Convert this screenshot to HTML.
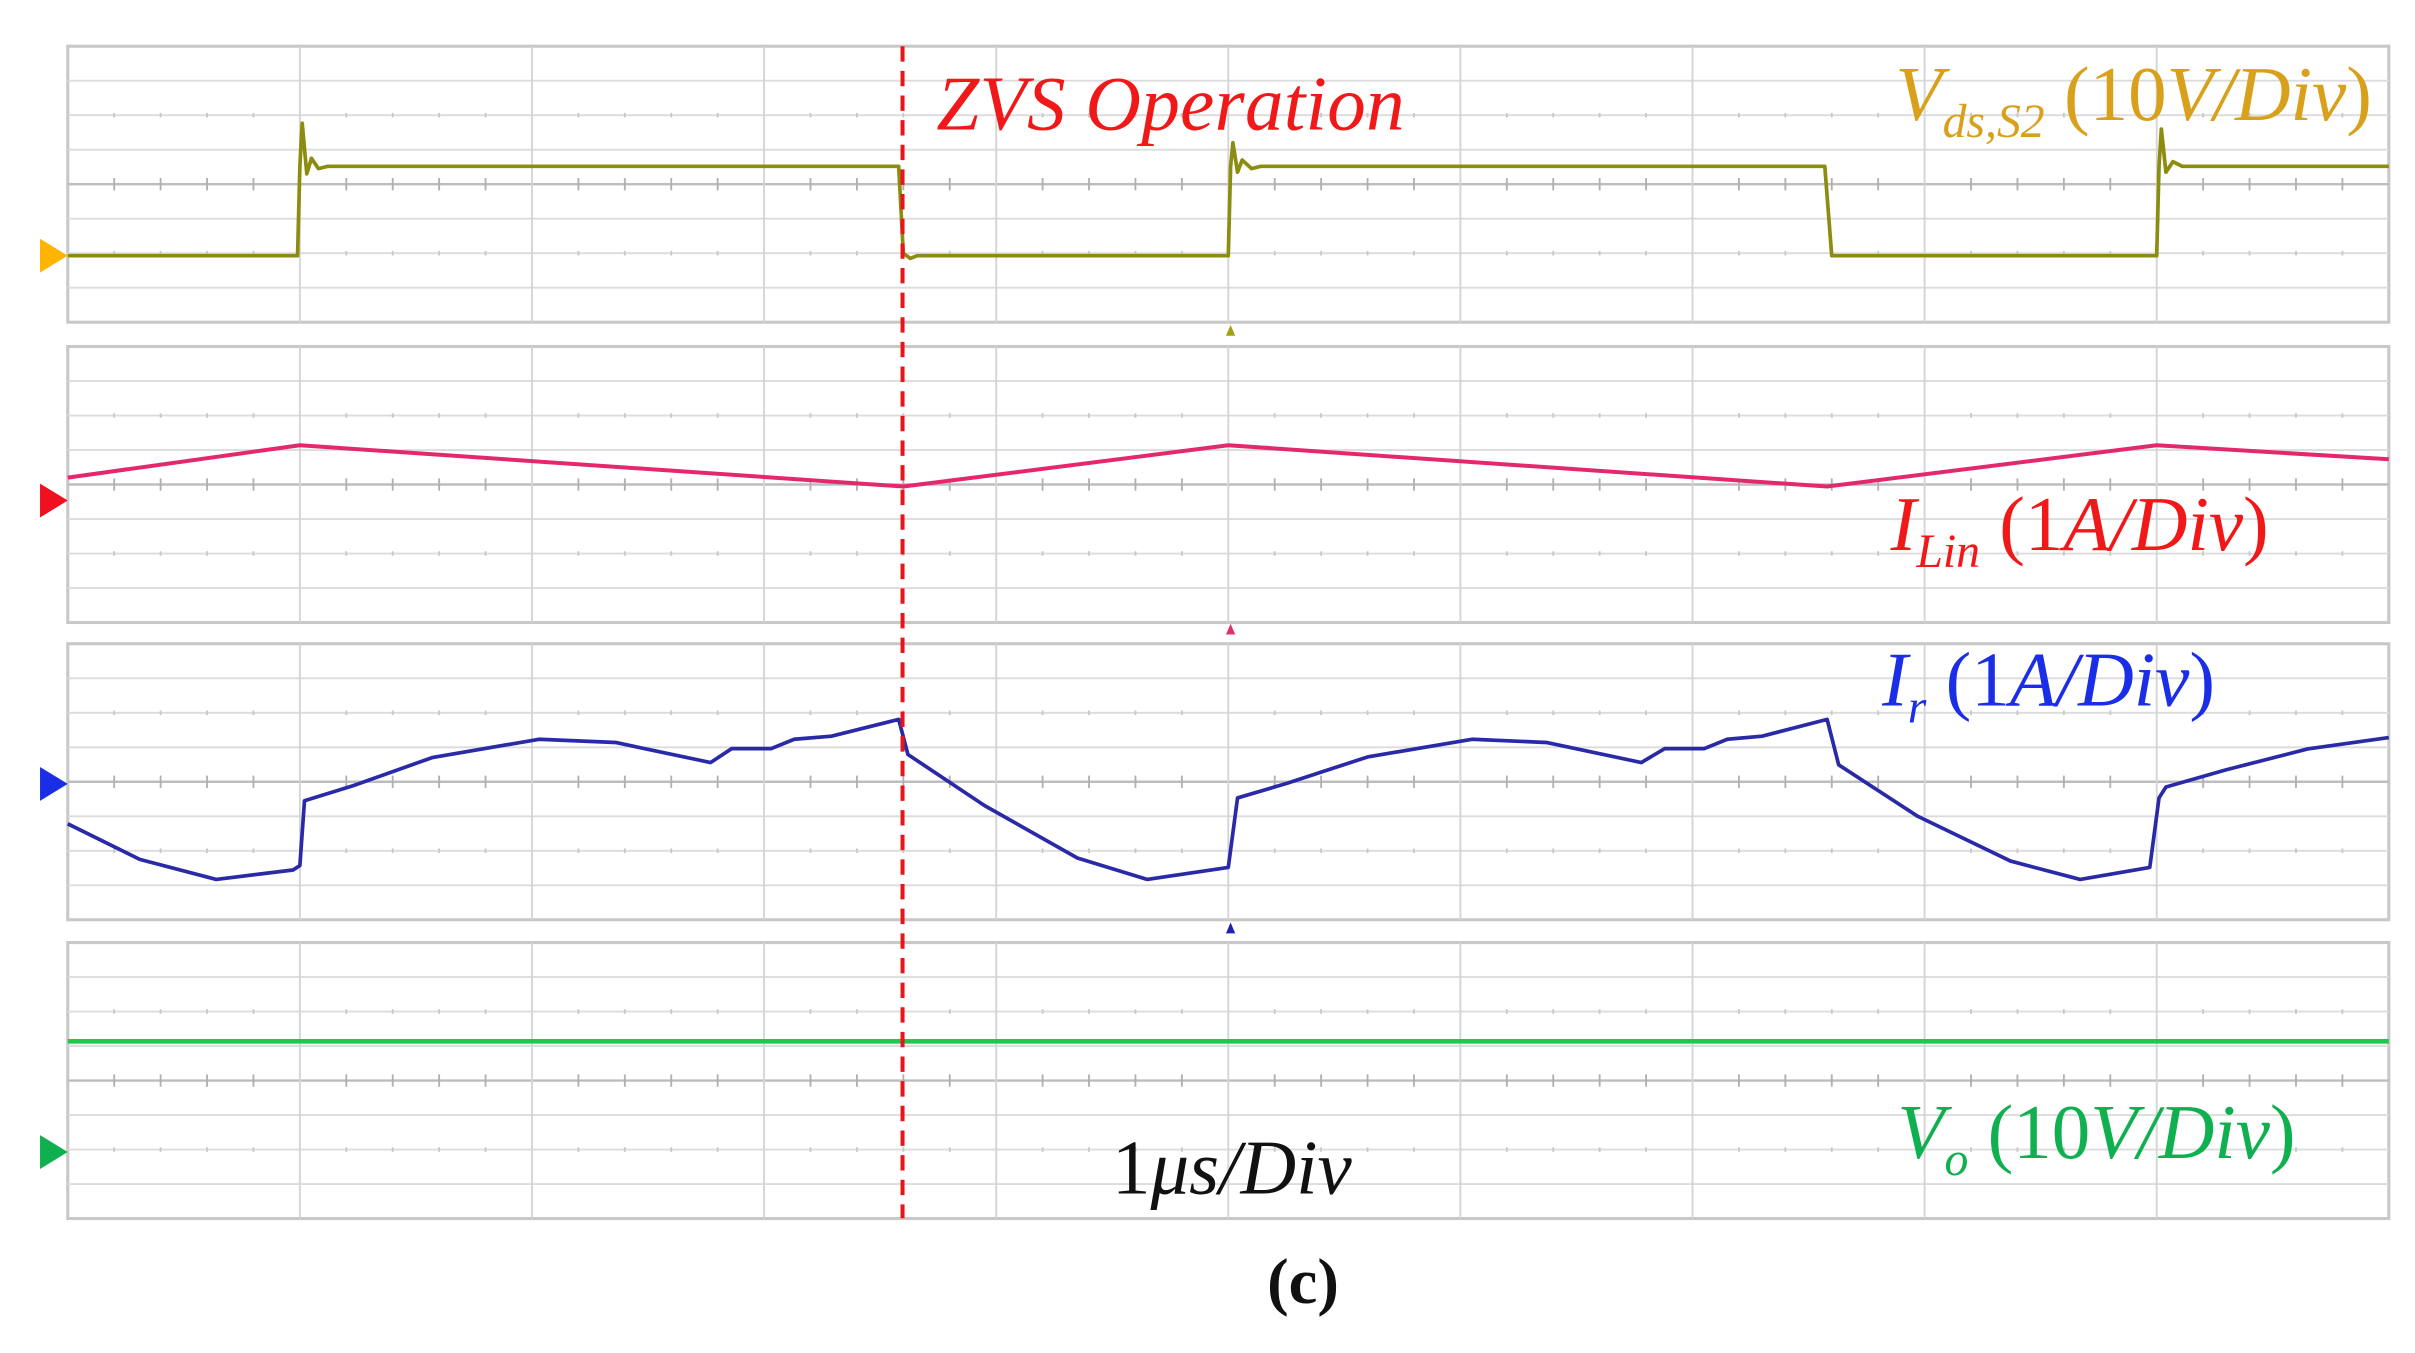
<!DOCTYPE html>
<html><head><meta charset="utf-8"><style>
html,body{margin:0;padding:0;background:#fff;}
svg{display:block;}
text{font-family:"Liberation Serif",serif;}
</style></head>
<body>
<svg id="scope" width="2415" height="1353" viewBox="0 0 1568 878.5" preserveAspectRatio="none" xmlns="http://www.w3.org/2000/svg">
<g id="grid"></g>
<g id="traces"></g>
<line x1="586" y1="30" x2="586" y2="791" stroke="#e8141c" stroke-width="2.6" stroke-dasharray="10,6"/>
<polygon points="26,155 44,166 26,177" fill="#ffb400"/>
<polygon points="26,314 44,325 26,336" fill="#f01020"/>
<polygon points="26,498 44,509 26,520" fill="#1a2ee8"/>
<polygon points="26,737 44,748 26,759" fill="#10b050"/>
<polygon points="796,218 799,211 802,218" fill="#a0a010"/>
<polygon points="796,412 799,405 802,412" fill="#e0306a"/>
<polygon points="796,606 799,599 802,606" fill="#2020b0"/>
<text x="608" y="84" font-size="50" font-style="italic" fill="#f01818" textLength="304">ZVS Operation</text>
<text x="1540" y="78" font-size="50" font-style="italic" fill="#d9a01c" text-anchor="end">V<tspan font-size="31" dy="11">ds,S2</tspan><tspan dy="-11" font-style="normal"> (10</tspan>V/Div<tspan font-style="normal">)</tspan></text>
<text x="1473" y="357" font-size="50" font-style="italic" fill="#f01818" text-anchor="end">I<tspan font-size="31" dy="11">Lin</tspan><tspan dy="-11" font-style="normal"> (1</tspan>A/Div<tspan font-style="normal">)</tspan></text>
<text x="1222" y="458" font-size="50" font-style="italic" fill="#1a2ee8">I<tspan font-size="31" dy="11">r</tspan><tspan dy="-11" font-style="normal"> (1</tspan>A/Div<tspan font-style="normal">)</tspan></text>
<text x="1232" y="752" font-size="50" font-style="italic" fill="#10b050">V<tspan font-size="31" dy="11">o</tspan><tspan dy="-11" font-style="normal"> (10</tspan>V/Div<tspan font-style="normal">)</tspan></text>
<text x="722" y="775" font-size="50" font-style="italic" fill="#111"><tspan font-style="normal">1</tspan>μs/Div</text>
<text x="846" y="846" font-size="42" fill="#111" text-anchor="middle" font-weight="bold">(c)</text>
</svg>
<script>
// time in μs (1 div = 1 μs), values in divisions from panel center
const vdsT = [0,0.99,1.0,1.01,1.03,1.05,1.08,1.12,3.58,3.6,3.63,3.66,5.0,5.01,5.02,5.04,5.06,5.1,5.14,7.57,7.6,7.63,9.0,9.01,9.02,9.04,9.07,9.11,10];
const vdsV = [-2.07,-2.07,0.52,1.77,0.3,0.75,0.45,0.52,0.52,-2.0,-2.15,-2.07,-2.07,0.52,1.2,0.35,0.7,0.45,0.52,0.52,-2.07,-2.07,-2.07,0.52,1.6,0.35,0.65,0.52,0.52];
const ilinT = [0,1.0,3.6,5.0,7.58,9.0,10];
const ilinV = [0.2,1.14,-0.06,1.14,-0.06,1.14,0.73];
const irT = [0,0.31,0.64,0.97,1.0,1.02,1.23,1.57,2.03,2.36,2.77,2.86,3.03,3.13,3.29,3.58,3.62,3.95,4.35,4.65,5.0,5.04,5.25,5.6,6.05,6.37,6.78,6.88,7.05,7.15,7.3,7.58,7.63,7.97,8.37,8.67,8.97,9.01,9.04,9.3,9.65,10];
const irV = [-1.22,-2.25,-2.83,-2.56,-2.43,-0.55,-0.11,0.7,1.23,1.14,0.56,0.96,0.96,1.23,1.32,1.81,0.79,-0.69,-2.21,-2.83,-2.48,-0.47,-0.05,0.72,1.23,1.14,0.56,0.96,0.96,1.23,1.32,1.81,0.49,-1.0,-2.3,-2.83,-2.48,-0.47,-0.15,0.35,0.95,1.28];
const voT = [0,10];
const voV = [1.14,1.14];
const panelTops = [30,225,418,612];

const NS="http://www.w3.org/2000/svg";
const X0=44, DX=150.7, DY=22.4, PH=179.2;
function xs(t){return X0+t*DX;}
function ys(p,v){return panelTops[p]+4*DY - v*DY;}
const grid=document.getElementById('grid');
function mk(tag,attrs,parent){const e=document.createElementNS(NS,tag);for(const k in attrs)e.setAttribute(k,attrs[k]);parent.appendChild(e);return e;}
panelTops.forEach((top,p)=>{
  const r=mk('rect',{x:X0,y:top,width:10*DX,height:PH,fill:'#fff',stroke:'#c8c8c8','stroke-width':2},grid);
  
  
  for(let i=1;i<8;i++){
    const l=mk('line',{x1:X0,x2:X0+10*DX,y1:top+i*DY,y2:top+i*DY,stroke:i==4?'#bdbdbd':'#dcdcdc','stroke-width':i==4?1.6:1.2},grid);
    
    
  }
  for(let i=1;i<10;i++){
    const l=mk('line',{x1:X0+i*DX,x2:X0+i*DX,y1:top,y2:top+PH,stroke:'#d4d4d4','stroke-width':1.2},grid);
    
    
  }
  for(let i=0;i<50;i++){
    if(i%5==0)continue;
    const x=X0+i*DX/5;
    mk('line',{x1:x,x2:x,y1:top+4*DY-4,y2:top+4*DY+4,stroke:'#b0b0b0','stroke-width':1.2},grid);
    mk('line',{x1:x,x2:x,y1:top+2*DY-1.5,y2:top+2*DY+1.5,stroke:'#c8c8c8','stroke-width':1.2},grid);
    mk('line',{x1:x,x2:x,y1:top+6*DY-1.5,y2:top+6*DY+1.5,stroke:'#c8c8c8','stroke-width':1.2},grid);
  }
});
const tr=document.getElementById('traces');
function trace(T,V,p,color,w,name){
  const pts=T.map((t,i)=>xs(t).toFixed(1)+','+ys(p,V[i]).toFixed(1)).join(' ');
  const pl=mk('polyline',{points:pts,fill:'none',stroke:color,'stroke-width':w,'stroke-linejoin':'round'},tr);
  
  
}
trace(vdsT,vdsV,0,'#8c8c10',2.4,'vds-trace');
trace(ilinT,ilinV,1,'#e4286e',2.6,'ilin-trace');
trace(irT,irV,2,'#2a2aa8',2.4,'ir-trace');
trace(voT,voV,3,'#1ec84a',3,'vo-trace');
</script>
</body></html>
